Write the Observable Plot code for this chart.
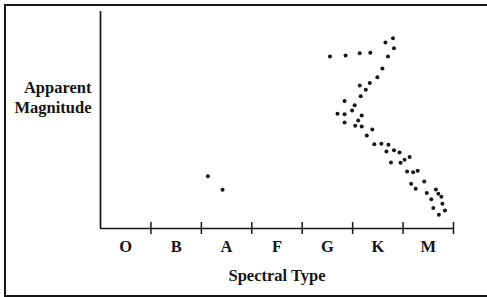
<!DOCTYPE html>
<html>
<head>
<meta charset="utf-8">
<script src="https://cdn.jsdelivr.net/npm/d3@7"></script>
<script src="https://cdn.jsdelivr.net/npm/@observablehq/plot@0.6"></script>
<style>
  html, body { margin: 0; padding: 0; background: #fff; }
  #wrap { position: relative; width: 487px; height: 297px; overflow: hidden; }
  #border { position: absolute; left: 4px; top: 4px; width: 520px; height: 289px; border: 2px solid #151515; box-sizing: content-box; pointer-events: none; }
  #chart { position: absolute; left: 0; top: 0; }
</style>
</head>
<body>
<div id="wrap"><div id="chart"></div><div id="border"></div></div>
<script>
// Spectral classes (each occupies one unit on the x axis)
const classes = ["O", "B", "A", "F", "G", "K", "M"];
const classBoundaries = [1, 2, 3, 4, 5, 6, 7];
const classCenters = [0.5, 1.5, 2.5, 3.5, 4.5, 5.5, 6.5];

// Star positions: spectral position (0..7) and apparent magnitude (0 = top, 10 = bottom)
const spectral = [
  5.80, 5.65, 5.82, 4.55, 4.86, 5.14, 5.35, 5.70, 5.59, 5.49,
  5.34, 5.14, 5.26, 5.16, 4.84, 5.04, 4.99, 4.70, 4.84, 5.18,
  5.11, 4.84, 5.05, 5.18, 5.39, 5.28, 5.43, 5.57, 5.71, 5.67,
  5.82, 5.93, 6.13, 6.03, 5.95, 5.76, 6.08, 6.20, 6.29, 6.42,
  6.16, 6.25, 6.47, 6.65, 6.70, 6.76, 6.56, 6.78, 6.60, 6.83,
  6.71, 2.13, 2.42
];
const magnitude = [
  1.23, 1.43, 1.69, 2.07, 2.03, 1.92, 1.90, 2.07, 2.63, 3.03,
  3.29, 3.41, 3.61, 3.90, 4.12, 4.32, 4.56, 4.71, 4.73, 4.79,
  5.02, 5.12, 5.27, 5.30, 5.44, 5.71, 6.12, 6.10, 6.14, 6.45,
  6.39, 6.50, 6.71, 6.83, 6.97, 6.96, 7.37, 7.41, 7.34, 7.83,
  7.94, 8.17, 8.36, 8.20, 8.40, 8.54, 8.65, 8.86, 9.05, 9.17,
  9.37, 7.59, 8.22
];

const xTitle = "Spectral Type";
const yTitle = "Apparent\nMagnitude";

const stars = spectral.map((s, i) => ({spectral: s, magnitude: magnitude[i]}));

const ink = "#151515";
const font = "'Liberation Serif', 'Times New Roman', serif";

const chart = Plot.plot({
  width: 487,
  height: 297,
  marginLeft: 100,
  marginRight: 34,
  marginTop: 11,
  marginBottom: 69,
  style: {background: "transparent", fontFamily: font, fontSize: "16.5px", color: ink},
  x: {domain: [0, 7], axis: null},
  y: {domain: [0, 10], reverse: true, axis: null},
  marks: [
    Plot.ruleX([0], {stroke: ink, strokeWidth: 1.7}),
    Plot.ruleY([10], {stroke: ink, strokeWidth: 1.7}),
    Plot.axisX(classBoundaries, {tickSize: 12, dy: -6, tickFormat: () => "", label: null, stroke: ink, strokeWidth: 1.5}),
    Plot.axisX(classCenters, {
      tickSize: 0, tickPadding: 12,
      tickFormat: d => classes[Math.floor(d)],
      fontSize: 16.5, fontWeight: "bold", fontFamily: font, fill: ink, label: null
    }),
    Plot.text([xTitle], {
      frameAnchor: "bottom", dy: 52, lineAnchor: "bottom",
      fontSize: 16.5, fontWeight: "bold", fontFamily: font, fill: ink
    }),
    Plot.text([yTitle], {
      frameAnchor: "top-left", dx: -9, dy: 67.5, textAnchor: "end", lineAnchor: "top",
      lineHeight: 1.22,
      fontSize: 16.5, fontWeight: "bold", fontFamily: font, fill: ink
    }),
    Plot.dot(stars, {x: "spectral", y: "magnitude", r: 2, fill: ink, stroke: "none"})
  ]
});

document.getElementById("chart").appendChild(chart);
</script>
</body>
</html>
